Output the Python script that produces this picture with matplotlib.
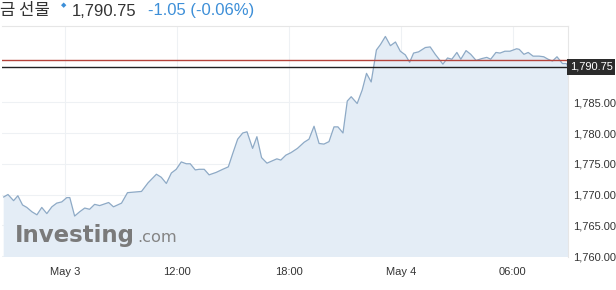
import matplotlib
matplotlib.use("Agg")
import matplotlib.pyplot as plt
from matplotlib.ticker import FuncFormatter

# hours relative to the "May 3" tick
hours = [-3.27, -3.04, -2.74, -2.51, -2.26, -2.03, -1.76, -1.49, -1.23, -0.96,
         -0.69, -0.43, -0.16, 0.11, 0.27, 0.53, 0.80, 1.07, 1.33, 1.60,
         1.87, 2.35, 2.61, 3.04, 3.36, 3.73, 4.11, 4.46, 4.91, 5.17,
         5.44, 5.71, 5.97, 6.24, 6.51, 6.72, 6.99, 7.20, 7.47, 7.73,
         8.11, 8.46, 8.76, 9.00, 9.26, 9.53, 9.76, 10.06, 10.29, 10.54,
         10.83, 11.13, 11.36, 11.57, 11.84, 12.11, 12.46, 12.82, 13.08, 13.35,
         13.62, 13.88, 14.15, 14.42, 14.63, 14.90, 15.13, 15.34, 15.66, 15.93,
         16.16, 16.41, 16.69, 16.91, 17.17, 17.44, 17.71, 17.97, 18.24, 18.47,
         18.68, 18.95, 19.31, 19.57, 19.84, 20.25, 20.50, 20.73, 21.00, 21.21,
         21.49, 21.74, 22.03, 22.33, 22.60, 22.81, 23.09, 23.31, 23.57, 23.84,
         24.20, 24.34, 24.59, 24.82, 25.08, 25.40, 25.65, 25.88, 26.12, 26.36,
         26.65, 26.86, 26.95]
prices = [1769.6, 1770.0, 1769.0, 1769.8, 1768.3, 1767.9, 1767.2, 1766.7, 1767.9, 1766.9,
          1768.0, 1768.6, 1768.8, 1769.5, 1769.5, 1766.5, 1767.2, 1767.8, 1767.6, 1768.4,
          1768.2, 1768.7, 1768.0, 1768.6, 1770.3, 1770.4, 1770.5, 1771.9, 1773.3, 1772.8,
          1771.8, 1773.5, 1774.1, 1775.3, 1775.0, 1775.0, 1774.0, 1774.1, 1774.1, 1773.2,
          1773.6, 1774.1, 1774.5, 1776.7, 1779.0, 1780.0, 1780.2, 1777.5, 1779.4, 1776.0,
          1775.1, 1775.5, 1775.8, 1775.6, 1776.4, 1776.8, 1777.5, 1778.5, 1779.0, 1781.1,
          1778.3, 1778.2, 1778.6, 1781.0, 1781.0, 1780.0, 1785.2, 1785.9, 1784.8, 1787.0,
          1789.7, 1788.3, 1793.5, 1794.4, 1795.7, 1794.2, 1794.8, 1793.3, 1792.7, 1791.5,
          1793.0, 1793.2, 1793.9, 1794.0, 1792.8, 1791.2, 1792.2, 1792.0, 1793.1, 1792.0,
          1793.4, 1792.8, 1791.8, 1792.1, 1792.3, 1792.0, 1793.1, 1793.0, 1793.3, 1793.3,
          1793.7, 1793.6, 1792.8, 1793.1, 1792.5, 1792.5, 1792.4, 1792.0, 1791.7, 1792.4,
          1791.3, 1791.3, 1790.75]

tick_pos = [0, 6, 12, 18, 24]
tick_labels = ["May 3", "12:00", "18:00", "May 4", "06:00"]
y_ticks = [1760, 1765, 1770, 1775, 1780, 1785]

last_price = 1790.75
prev_close = 1791.80
change = "-1.05 (-0.06%)"
title = "금 선물"

fig = plt.figure(figsize=(6.16, 2.90), dpi=100)
ax = fig.add_axes([2 / 616, 33 / 290, 566 / 616, 231 / 290])

ax.fill_between(hours, prices, 1700, color="#e4edf6", lw=0)
ax.plot(hours, prices, color="#8eaac6", lw=0.9)
ax.axhline(prev_close, color="#b5433b", lw=1.0)
ax.axhline(last_price, color="#222222", lw=1.0)

ax.set_xlim(-3.36, 26.95)
ax.set_ylim(1759.84, 1797.4)
ax.set_xticks(tick_pos)
ax.set_xticklabels(tick_labels)
ax.set_yticks(y_ticks)
ax.yaxis.set_major_formatter(FuncFormatter(lambda v, p: f"{v:,.2f}"))
ax.yaxis.tick_right()
ax.tick_params(length=0, labelsize=8, colors="#333333", pad=4)
ax.tick_params(axis="x", pad=7)
for lab in ax.get_xticklabels() + ax.get_yticklabels():
    lab.set_fontfamily("Liberation Sans")
ax.grid(True, color="#eef1f4", lw=0.8)
ax.set_axisbelow(True)
for s in ax.spines.values():
    s.set_color("#e6e6e6")
    s.set_linewidth(0.8)
ax.spines["bottom"].set_visible(False)
ax.spines["left"].set_visible(False)

# current price box
ax.text(1.003, last_price, f"{last_price:,.2f}", transform=ax.get_yaxis_transform(),
        ha="left", va="center", color="white", fontsize=8, fontfamily="Liberation Sans",
        bbox=dict(boxstyle="square,pad=0.25", fc="#2b2b2b", ec="none"))

# watermark
ax.text(0.023, 0.065, "Investing", transform=ax.transAxes, fontsize=16.5, fontweight="bold",
        color="#7a7a7a", fontfamily="DejaVu Sans", ha="left", va="baseline")
ax.text(0.2385, 0.065, ".com", transform=ax.transAxes, fontsize=11.7,
        color="#858585", fontfamily="DejaVu Sans", ha="left", va="baseline")

# header
fig.text(0 / 616, 1 - 11 / 290, title, fontsize=12, color="#333333",
         fontfamily=["Noto Sans CJK KR", "DejaVu Sans"], va="center", ha="left")
fig.text(61 / 616, 1 - 5 / 290, "◆", fontsize=5, color="#3d8fd8",
         fontfamily="DejaVu Sans", va="center", ha="left")
fig.text(72 / 616, 1 - 11 / 290, f"{last_price:,.2f}", fontsize=12, color="#333333",
         fontfamily="Liberation Sans", va="center", ha="left")
fig.text(148 / 616, 1 - 11 / 290, change, fontsize=12, color="#3d8fd8",
         fontfamily="Liberation Sans", va="center", ha="left")

fig.savefig("out.png", dpi=100)
